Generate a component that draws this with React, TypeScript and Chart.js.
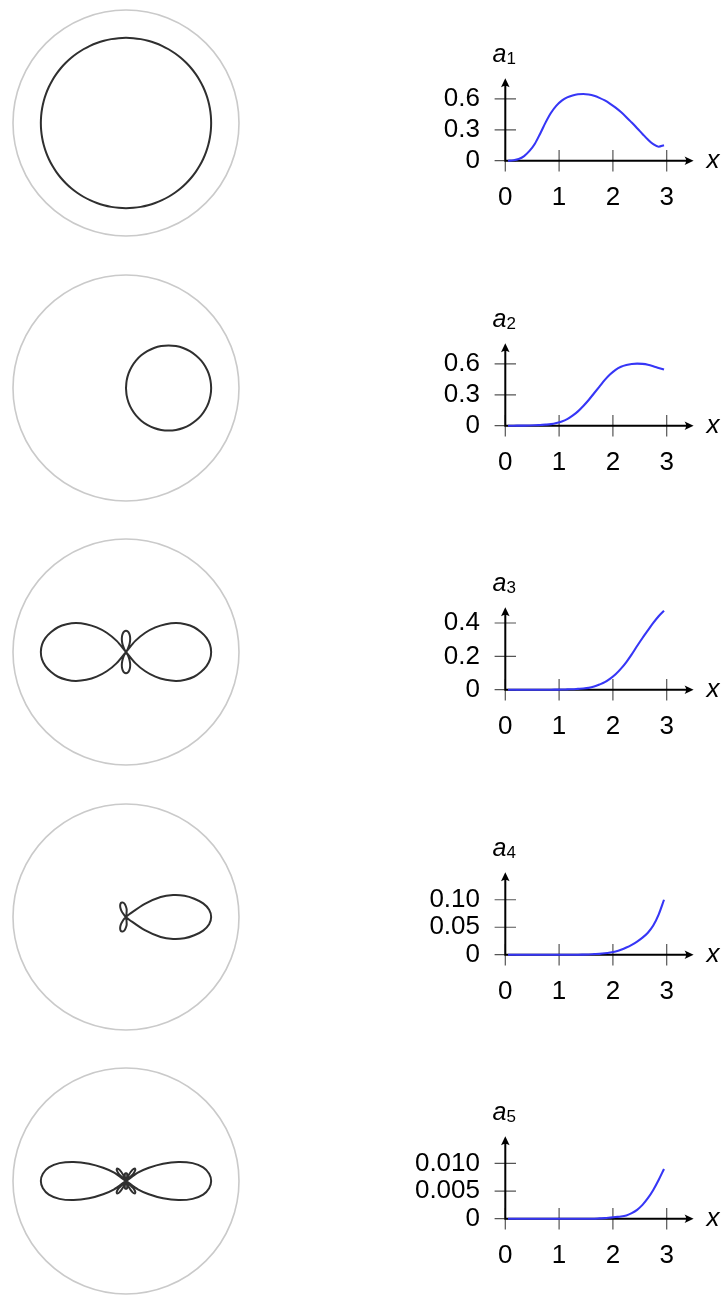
import React, { Fragment, useEffect, useRef } from 'react';
import { Chart, registerables } from 'chart.js';

Chart.register(...registerables);

// ---- Angular patterns, radius sampled every 5° from 0° to 180° (mirrored below the axis) ----
const PATTERN_1 = [
  1, 1, 1, 1, 1, 1, 1, 1, 1, 1, 1, 1, 1, 1, 1, 1, 1, 1, 1,
  1, 1, 1, 1, 1, 1, 1, 1, 1, 1, 1, 1, 1, 1, 1, 1, 1, 1,
];
const PATTERN_2 = [
  1.0, 0.996, 0.985, 0.966, 0.94, 0.906, 0.866, 0.819, 0.766, 0.707, 0.643, 0.574, 0.5, 0.423,
  0.342, 0.259, 0.174, 0.087, 0,
  0, 0, 0, 0, 0, 0, 0, 0, 0, 0, 0, 0, 0, 0, 0, 0, 0, 0,
];
const PATTERN_3 = [
  1.0, 0.99, 0.96, 0.91, 0.85, 0.77, 0.68, 0.57, 0.45, 0.32, 0.17, 0, 0.04, 0.09, 0.14, 0.185,
  0.22, 0.243, 0.25,
  0.243, 0.22, 0.185, 0.14, 0.09, 0.04, 0, 0.17, 0.32, 0.45, 0.57, 0.68, 0.77, 0.85, 0.91, 0.96,
  0.99, 1.0,
];
const PATTERN_4 = [
  1.0, 0.98, 0.92, 0.83, 0.73, 0.61, 0.47, 0.27, 0.05, 0, 0, 0, 0, 0, 0, 0, 0.03, 0.09, 0.12,
  0.15, 0.17, 0.175, 0.175, 0.16, 0.135, 0.1, 0.06, 0.02, 0, 0, 0, 0, 0, 0, 0, 0, 0,
];
const PATTERN_5 = [
  1.0, 0.98, 0.92, 0.81, 0.655, 0.48, 0.31, 0.17, 0, 0.12, 0.17, 0.18, 0.15, 0.08, 0.01, 0.05,
  0.08, 0.09, 0.09,
  0.09, 0.08, 0.05, 0.01, 0.08, 0.15, 0.18, 0.17, 0.12, 0, 0.17, 0.31, 0.48, 0.655, 0.81, 0.92,
  0.98, 1.0,
];

// ---- Coefficient curves a_l(x) ----
const X_VALUES = [
  0.05, 0.15, 0.25, 0.35, 0.45, 0.55, 0.65, 0.75, 0.85, 0.95, 1.05, 1.15, 1.25, 1.35, 1.45,
  1.55, 1.65, 1.75, 1.85, 1.95, 2.05, 2.15, 2.25, 2.35, 2.45, 2.55, 2.65, 2.75, 2.85, 2.95,
];
const A1 = [
  0.0, 0.004, 0.016, 0.045, 0.095, 0.165, 0.265, 0.372, 0.465, 0.535, 0.583, 0.615, 0.634, 0.645,
  0.647, 0.642, 0.63, 0.61, 0.585, 0.552, 0.515, 0.472, 0.423, 0.37, 0.316, 0.26, 0.205, 0.16,
  0.136, 0.15,
];
const A2 = [
  0, 0, 0.0005, 0.001, 0.002, 0.004, 0.007, 0.01, 0.015, 0.026, 0.041, 0.064, 0.098, 0.139, 0.192,
  0.25, 0.315, 0.38, 0.445, 0.5, 0.543, 0.572, 0.589, 0.599, 0.603, 0.6, 0.592, 0.578, 0.561, 0.545,
];
const A3 = [
  0, 0, 0, 0, 0, 0, 0, 0, 0, 0.0005, 0.001, 0.002, 0.003, 0.005, 0.007, 0.011, 0.019, 0.031,
  0.045, 0.066, 0.092, 0.126, 0.166, 0.212, 0.262, 0.31, 0.355, 0.4, 0.44, 0.473,
];
const A4 = [
  0, 0, 0, 0, 0, 0, 0, 0, 0, 0, 0, 0, 0, 0, 0.0002, 0.0005, 0.001, 0.0015, 0.0025, 0.004, 0.006,
  0.009, 0.013, 0.018, 0.024, 0.031, 0.04, 0.053, 0.073, 0.1,
];
const A5 = [
  0, 0, 0, 0, 0, 0, 0, 0, 0, 0, 0, 0, 0, 0, 0, 0, 0, 0.00005, 0.0001, 0.0002, 0.0003, 0.0004,
  0.0006, 0.001, 0.0016, 0.0025, 0.0037, 0.0052, 0.007, 0.009,
];

// ---- Axis ticks ----
const X_TICKS = [0, 1, 2, 3];
const X_MAX = 3.5;
const Y_TICKS_1 = [0, 0.3, 0.6];
const Y_LABELS_1 = ['0', '0.3', '0.6'];
const Y_TICKS_3 = [0, 0.2, 0.4];
const Y_LABELS_3 = ['0', '0.2', '0.4'];
const Y_TICKS_4 = [0, 0.05, 0.1];
const Y_LABELS_4 = ['0', '0.05', '0.10'];
const Y_TICKS_5 = [0, 0.005, 0.01];
const Y_LABELS_5 = ['0', '0.005', '0.010'];
const Y_MAX = [0.8, 0.8, 0.494, 0.15, 0.0149];
const SUBSCRIPTS = ['1', '2', '3', '4', '5'];

const ROWS = [
  { pattern: PATTERN_1, values: A1, yTicks: Y_TICKS_1, yLabels: Y_LABELS_1 },
  { pattern: PATTERN_2, values: A2, yTicks: Y_TICKS_1, yLabels: Y_LABELS_1 },
  { pattern: PATTERN_3, values: A3, yTicks: Y_TICKS_3, yLabels: Y_LABELS_3 },
  { pattern: PATTERN_4, values: A4, yTicks: Y_TICKS_4, yLabels: Y_LABELS_4 },
  { pattern: PATTERN_5, values: A5, yTicks: Y_TICKS_5, yLabels: Y_LABELS_5 },
].map((r, i) => ({ ...r, yMax: Y_MAX[i], sub: SUBSCRIPTS[i] }));

const FONT = "'Liberation Sans', Arial, sans-serif";
const LINE_BLUE = '#3636f6';
const SHAPE_COLOR = '#2f2f2f';
const RING_COLOR = '#cacaca';
const R_MAX = 1.327;
const ROW_STEP = 264.6;

const ANGLE_LABELS = Array.from({ length: 72 }, (_, i) => `${i * 5}`);
const fullTurn = (half: number[]) => [...half, ...half.slice(1, 36).reverse()];

function PatternChart({ pattern, top }: { pattern: number[]; top: number }) {
  const ref = useRef<HTMLCanvasElement>(null);
  useEffect(() => {
    const chart = new Chart(ref.current as HTMLCanvasElement, {
      type: 'radar',
      data: {
        labels: ANGLE_LABELS,
        datasets: [
          {
            data: fullTurn(pattern),
            borderColor: SHAPE_COLOR,
            borderWidth: 2,
            borderJoinStyle: 'round',
            pointRadius: 0,
            pointHoverRadius: 0,
            fill: false,
            tension: 0.3,
          },
        ],
      },
      options: {
        responsive: false,
        animation: false,
        events: [],
        layout: { padding: 7 },
        plugins: { legend: { display: false }, tooltip: { enabled: false } },
        scales: {
          r: {
            min: 0,
            max: R_MAX,
            startAngle: 90,
            angleLines: { display: false },
            pointLabels: { display: false },
            ticks: { display: false },
            grid: { circular: true, color: RING_COLOR, lineWidth: 1.6 },
            afterBuildTicks: (s: any) => {
              s.ticks = [{ value: 0 }, { value: R_MAX }];
            },
          },
        },
      } as any,
    });
    return () => chart.destroy();
  }, [pattern]);
  return (
    <canvas
      ref={ref}
      width={241}
      height={241}
      style={{ position: 'absolute', left: 6, top, width: 241, height: 241 }}
    />
  );
}

const AXIS_TOP = 78.3;
const AXIS_BOTTOM = 160.7;
const AXIS_LEFT = 105.3;
const CANVAS_W = 326;
const CANVAS_H = 230;

function drawArrowHead(ctx: CanvasRenderingContext2D, x: number, y: number, angle: number) {
  ctx.save();
  ctx.translate(x, y);
  ctx.rotate(angle);
  ctx.beginPath();
  ctx.moveTo(0, 0);
  ctx.lineTo(-9, -4.3);
  ctx.quadraticCurveTo(-6, 0, -9, 4.3);
  ctx.closePath();
  ctx.fill();
  ctx.restore();
}

function arrowAxes(row: any) {
  return {
    id: 'arrowAxes',
    beforeDatasetsDraw(chart: any) {
      const { ctx, chartArea, scales } = chart;
      const { left, right, top, bottom } = chartArea;
      const xs = scales.x;
      const ys = scales.y;
      ctx.save();
      // crossing tick marks
      ctx.strokeStyle = '#555';
      ctx.lineWidth = 1.2;
      ctx.beginPath();
      X_TICKS.forEach((v) => {
        const px = xs.getPixelForValue(v);
        ctx.moveTo(px, bottom - 10.7);
        ctx.lineTo(px, bottom + 10.7);
      });
      row.yTicks.forEach((v: number) => {
        const py = ys.getPixelForValue(v);
        ctx.moveTo(left - 10.7, py);
        ctx.lineTo(left + 10.7, py);
      });
      ctx.stroke();
      // axis lines with arrow heads
      ctx.strokeStyle = '#000';
      ctx.fillStyle = '#000';
      ctx.lineWidth = 2;
      ctx.beginPath();
      ctx.moveTo(left - 1, bottom);
      ctx.lineTo(right - 5, bottom);
      ctx.moveTo(left, bottom + 1);
      ctx.lineTo(left, top + 5);
      ctx.stroke();
      drawArrowHead(ctx, right, bottom, 0);
      drawArrowHead(ctx, left, top, -Math.PI / 2);
      // axis names
      ctx.textAlign = 'left';
      ctx.textBaseline = 'alphabetic';
      ctx.font = `italic 26px ${FONT}`;
      ctx.fillText('x', right + 13, bottom + 7.6);
      ctx.font = `italic 25px ${FONT}`;
      const aw = ctx.measureText('a').width;
      ctx.font = `17px ${FONT}`;
      const sw = ctx.measureText(row.sub).width;
      const x0 = left - (aw + sw) / 2 - 1;
      ctx.font = `italic 25px ${FONT}`;
      ctx.fillText('a', x0, bottom - 99);
      ctx.font = `17px ${FONT}`;
      ctx.fillText(row.sub, x0 + aw, bottom - 96.5);
      ctx.restore();
    },
  };
}

function AmplitudeChart({ row, top }: { row: any; top: number }) {
  const ref = useRef<HTMLCanvasElement>(null);
  useEffect(() => {
    const tickFont = { family: FONT, size: 26 };
    const chart = new Chart(ref.current as HTMLCanvasElement, {
      type: 'line',
      data: {
        datasets: [
          {
            data: X_VALUES.map((x, i) => ({ x, y: row.values[i] })),
            borderColor: LINE_BLUE,
            borderWidth: 2.1,
            pointRadius: 0,
            pointHoverRadius: 0,
            cubicInterpolationMode: 'monotone',
            fill: false,
            clip: false,
          },
        ],
      },
      options: {
        responsive: false,
        animation: false,
        events: [],
        layout: {
          padding: { top: AXIS_TOP, right: CANVAS_W - (AXIS_LEFT + 188.3), left: 0, bottom: 0 },
        },
        plugins: { legend: { display: false }, tooltip: { enabled: false } },
        scales: {
          x: {
            type: 'linear',
            min: 0,
            max: X_MAX,
            grid: { display: false, drawTicks: false },
            border: { display: false },
            ticks: { font: tickFont, color: '#000', padding: 22, maxRotation: 0, autoSkip: false },
            afterBuildTicks: (s: any) => {
              s.ticks = X_TICKS.map((v) => ({ value: v }));
            },
            afterFit: (s: any) => {
              s.height = CANVAS_H - AXIS_BOTTOM;
            },
          },
          y: {
            type: 'linear',
            min: 0,
            max: row.yMax,
            grid: { display: false, drawTicks: false },
            border: { display: false },
            ticks: {
              font: tickFont,
              color: '#000',
              padding: 25.3,
              autoSkip: false,
              callback: (_v: any, i: number) => row.yLabels[i],
            },
            afterBuildTicks: (s: any) => {
              s.ticks = row.yTicks.map((v: number) => ({ value: v }));
            },
            afterFit: (s: any) => {
              s.width = AXIS_LEFT;
            },
          },
        },
      } as any,
      plugins: [arrowAxes(row)],
    });
    return () => chart.destroy();
  }, [row]);
  return (
    <canvas
      ref={ref}
      width={CANVAS_W}
      height={CANVAS_H}
      style={{ position: 'absolute', left: 400, top, width: CANVAS_W, height: CANVAS_H }}
    />
  );
}

export default function App() {
  return (
    <div
      style={{
        position: 'absolute',
        left: 0,
        top: 0,
        width: 726,
        height: 1295,
        background: '#fff',
        overflow: 'hidden',
      }}
    >
      {ROWS.map((row, i) => {
        const rowTop = Math.round(i * ROW_STEP);
        return (
          <Fragment key={i}>
            <PatternChart pattern={row.pattern} top={rowTop + 3} />
            <AmplitudeChart row={row} top={rowTop} />
          </Fragment>
        );
      })}
    </div>
  );
}
